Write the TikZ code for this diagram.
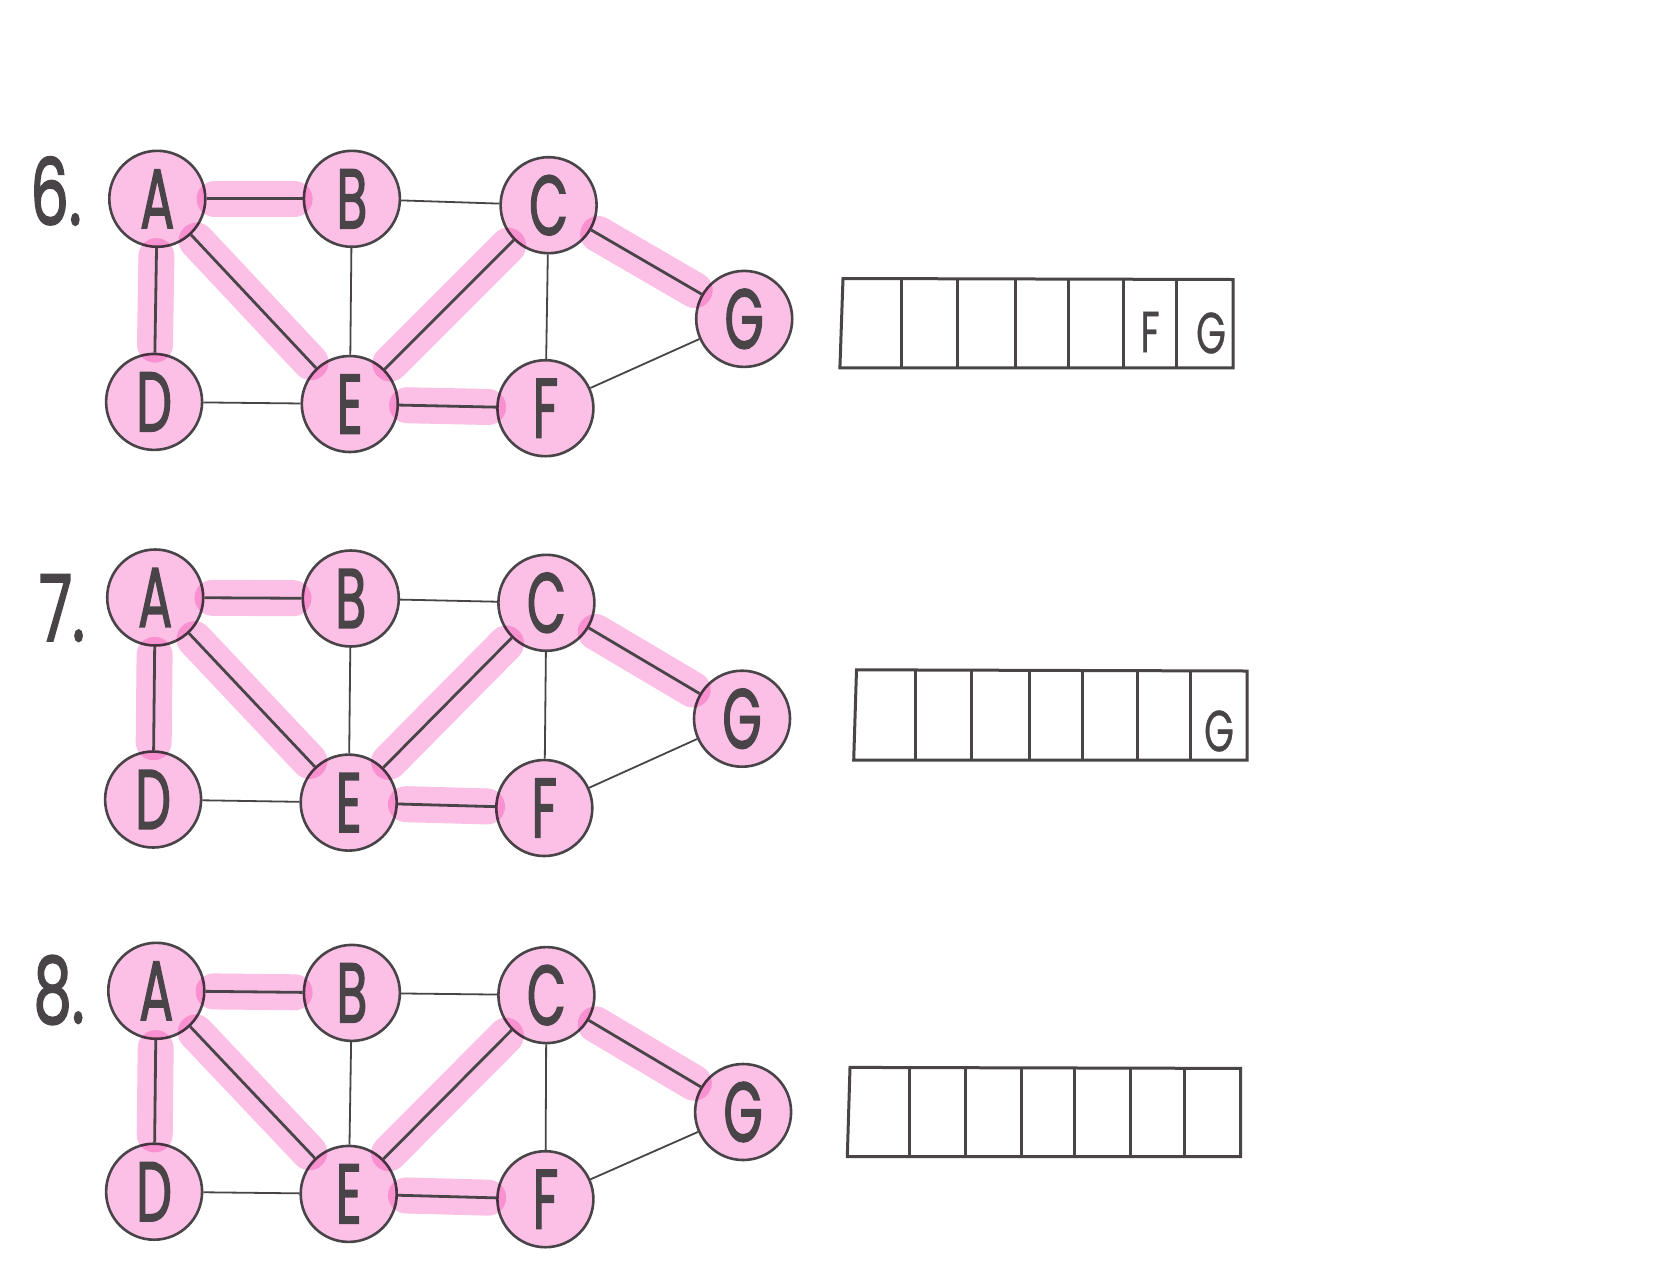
\documentclass[tikz,border=0pt]{standalone}
\usepackage{fontspec}
\setmainfont{Poppins}
\newfontfamily\hwfont[FakeBold=2.2]{Poppins}
\newfontfamily\hwthin[FakeBold=0.6]{Poppins}
\usetikzlibrary{backgrounds}
\definecolor{pk}{RGB}{252,192,230}
\definecolor{ink}{RGB}{72,68,72}
\tikzset{
 vtx/.style={circle, draw=ink, line width=2.6pt, fill=pk, minimum size=96pt, inner sep=0pt, text=ink, font=\fontsize{84}{84}\hwfont},
 hl/.style={draw=pk, line width=36pt, line cap=round, shorten <=8pt, shorten >=8pt, blend mode=multiply},
 hledge/.style={draw=ink, line width=2.8pt},
 thinedge/.style={draw=ink, line width=1.8pt},
 arr/.style={draw=ink, line width=3pt},
 lbl/.style={text=ink, font=\fontsize{92}{92}\hwfont, inner sep=0pt},
 cellt/.style={text=ink, font=\fontsize{58}{58}\hwthin, inner sep=0pt}
}
\newcommand\nx[1]{\scalebox{0.6}[1]{#1}}
\newcommand\lx[1]{\scalebox{0.66}[1]{#1}}
\begin{document}
\begin{tikzpicture}[x=1pt,y=-1pt]
\useasboundingbox (0,0) rectangle (1667,1275);
\begin{pgfonlayer}{background}
\fill[white] (0,0) rectangle (1667,1275);
\end{pgfonlayer}

% ---- diagram 6
\node[lbl] (l6) at (56,191) {\lx{6.}};
\node[vtx] (a6) at (157.3,198.8) {\nx{A}};
\node[vtx] (b6) at (351.9,198.8) {\nx{B}};
\node[vtx] (c6) at (548.6,205.2) {\nx{C}};
\node[vtx] (d6) at (154.1,401.9) {\nx{D}};
\node[vtx] (e6) at (349.8,404.0) {\nx{E}};
\node[vtx] (f6) at (545.4,408.2) {\nx{F}};
\node[vtx] (g6) at (744.2,318.9) {\nx{G}};

% ---- diagram 7
\node[lbl] (l7) at (62,608) {\lx{7.}};
\node[vtx] (a7) at (155.2,597.5) {\nx{A}};
\node[vtx] (b7) at (350.8,598.5) {\nx{B}};
\node[vtx] (c7) at (546.4,602.8) {\nx{C}};
\node[vtx] (d7) at (153.1,799.5) {\nx{D}};
\node[vtx] (e7) at (348.7,802.6) {\nx{E}};
\node[vtx] (f7) at (544.3,808.0) {\nx{F}};
\node[vtx] (g7) at (742.0,718.7) {\nx{G}};

% ---- diagram 8
\node[lbl] (l8) at (59,990) {\lx{8.}};
\node[vtx] (a8) at (156.3,990.8) {\nx{A}};
\node[vtx] (b8) at (351.9,992.9) {\nx{B}};
\node[vtx] (c8) at (546.4,995.1) {\nx{C}};
\node[vtx] (d8) at (154.1,1191.7) {\nx{D}};
\node[vtx] (e8) at (348.7,1193.9) {\nx{E}};
\node[vtx] (f8) at (545.4,1199.2) {\nx{F}};
\node[vtx] (g8) at (743.1,1112.0) {\nx{G}};

\foreach \s in {6,7,8}{
  \foreach \u/\v in {a/b,a/d,a/e,e/c,e/f,c/g}{
    \draw[hl] (\u\s) -- (\v\s);
  }
  \foreach \u/\v in {a/b,a/d,a/e,e/c,e/f,c/g}{
    \draw[hledge] (\u\s) -- (\v\s);
  }
  \foreach \u/\v in {b/c,b/e,c/f,d/e,f/g}{
    \draw[thinedge] (\u\s) -- (\v\s);
  }
}

% ---- arrays
\draw[arr] (843,278.5) -- (1233.2,279.5) -- (1233.2,367.8) -- (839.9,367.8) -- cycle;
\foreach \x in {901.5,957.9,1015.3,1068.4,1123.7,1176.9}{
  \draw[arr] (\x,279) -- (\x,367.8);
}
\node[cellt] (t6f) at (1150,332) {\lx{F}};
\node[cellt] (t6g) at (1211,333) {\lx{G}};

\draw[arr] (856.5,669.8) -- (1247.0,671) -- (1247.0,760.1) -- (853.7,760.1) -- cycle;
\foreach \x in {915.3,971.7,1029.1,1082.2,1137.5,1190.7}{
  \draw[arr] (\x,670.5) -- (\x,760.1);
}
\node[cellt] (t7g) at (1219,731) {\lx{G}};

\draw[arr] (850,1067.4) -- (1240.6,1068.4) -- (1240.6,1156.7) -- (847.3,1156.7) -- cycle;
\foreach \x in {909.0,965.3,1021.6,1074.8,1130.1,1184.3}{
  \draw[arr] (\x,1068) -- (\x,1156.7);
}
\end{tikzpicture}
\end{document}
